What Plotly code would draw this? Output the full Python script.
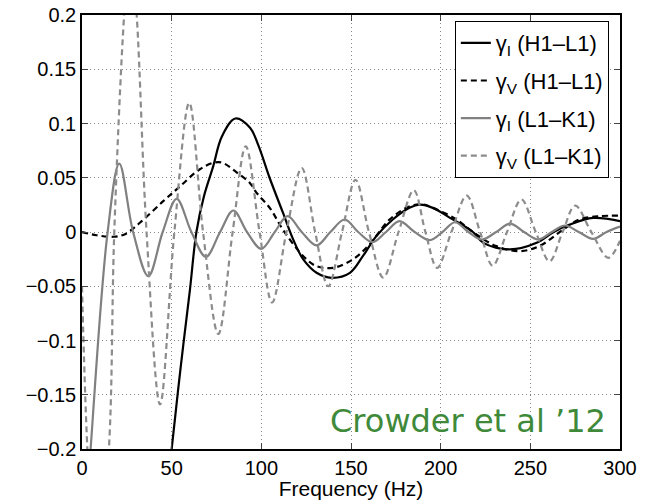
import plotly.graph_objects as go

# --- data ---
# gamma_I (H1-L1)
f_i_hl = [40, 50, 55, 60.2, 63.8, 68, 73.2, 78, 85.5, 93.7, 98.3, 104.6, 112, 117.8, 123.4,
          130.8, 139.2, 149.4, 156.6, 164, 173.3, 182.6, 188.5, 196, 205.2, 218, 223.8, 238.7,
          253.5, 263, 272, 285, 300]
g_i_hl = [-0.36, -0.2, -0.125, -0.053, 0.0, 0.033, 0.0607, 0.088, 0.1046, 0.096, 0.08, 0.05,
          0.018, -0.007, -0.0253, -0.0376, -0.0422, -0.0376, -0.0223, -0.004, 0.0115, 0.0223,
          0.0253, 0.022, 0.013, 0.0, -0.01, -0.0161, -0.01, 0.0, 0.0069, 0.013, 0.01]

# gamma_V (H1-L1)
f_v_hl = [0, 8, 17.5, 24, 32.3, 45.3, 54.6, 65.5, 73.2, 78, 86.2, 93.7, 97.4, 104.8, 112, 123.4,
          130.8, 139.9, 151, 160.3, 171.5, 182.9, 190, 196, 208.9, 218, 231, 244, 255, 268.4,
          277.4, 288.9, 300]
g_v_hl = [0.0, -0.003, -0.0044, -0.002, 0.0085, 0.0284, 0.042, 0.0576, 0.0638, 0.064, 0.055,
          0.045, 0.036, 0.022, 0.0023, -0.0223, -0.0315, -0.033, -0.0253, -0.0115, 0.0115,
          0.0238, 0.0253, 0.022, 0.0115, 0.0, -0.013, -0.0177, -0.013, 0.0023, 0.0115, 0.0146,
          0.015]

# gamma_I (L1-K1)
f_i_lk = [0, 4.8, 14.3, 20.8, 28.5, 37, 45, 52.8, 61, 69.1, 77, 84.4, 92, 100, 107.5, 114.6,
          122.5, 130.8, 138.5, 146.5, 154, 162, 169.5, 177, 185.5, 194, 201, 208, 215.5, 222.9,
          231, 238.7, 246.5, 254.5, 262, 269.3, 277, 285, 292.5, 300]
g_i_lk = [-0.32, -0.2, 0.0, 0.063, 0.0, -0.0407, 0.0, 0.0306, 0.0, -0.0229, 0.0, 0.0198, 0.0,
          -0.0155, 0.0, 0.0146, 0.0, -0.0124, 0.0, 0.0115, 0.0, -0.0094, 0.0, 0.01, 0.0, -0.0075,
          0.0, 0.009, 0.0, -0.0069, 0.0, 0.0078, 0.0, -0.0069, 0.0, 0.006, 0.0, -0.0063, 0.0,
          0.005]

# gamma_V (L1-K1)
f_v_lk = [0, 3, 8, 15, 18, 23.5, 27, 30.5, 36, 43.5, 51.5, 59.8, 67.5, 76, 84, 91.3, 99, 106,
          114, 122.5, 130, 137.3, 145, 152.5, 160, 168, 176.5, 185, 191.5, 198, 206, 214.5, 222,
          229, 237, 245, 253, 260.7, 268, 275, 284, 293.5, 300]
g_v_lk = [-0.05, -0.2, -0.33, -0.2, 0.0, 0.2, 0.27, 0.2, 0.0, -0.159, 0.0, 0.119, 0.0, -0.094,
          0.0, 0.079, 0.0, -0.065, 0.0, 0.059, 0.0, -0.05, 0.0, 0.048, 0.0, -0.042, 0.0, 0.0385,
          0.0, -0.033, 0.0, 0.0336, 0.0, -0.031, 0.0, 0.030, 0.0, -0.027, 0.0, 0.0244, 0.0,
          -0.0238, -0.008]

x_ticks = [0, 50, 100, 150, 200, 250, 300]
y_ticks = [-0.2, -0.15, -0.1, -0.05, 0, 0.05, 0.1, 0.15, 0.2]
y_tick_text = ["\u22120.2", "\u22120.15", "\u22120.1", "\u22120.05", "0", "0.05", "0.1", "0.15", "0.2"]

series = [
    ("\u03b3<sub>I</sub> (H1\u2013L1)", f_i_hl, g_i_hl, "black", "solid"),
    ("\u03b3<sub>V</sub> (H1\u2013L1)", f_v_hl, g_v_hl, "black", "6px,4px"),
    ("\u03b3<sub>I</sub> (L1\u2013K1)", f_i_lk, g_i_lk, "#808080", "solid"),
    ("\u03b3<sub>V</sub> (L1\u2013K1)", f_v_lk, g_v_lk, "#8c8c8c", "6px,4px"),
]

fig = go.Figure()
for i, (name, fx, gy, col, dash) in enumerate(series):
    fig.add_trace(go.Scatter(
        x=fx, y=gy, mode="lines", name=name, legendgroup=f"g{i}",
        line=dict(color=col, width=2.2, dash=dash, shape="spline", smoothing=1.0),
    ))

font_family = "Liberation Sans, Arial, sans-serif"

fig.update_layout(
    width=658, height=500,
    margin=dict(l=82, r=38, t=15, b=51, autoexpand=False),
    paper_bgcolor="white", plot_bgcolor="white",
    font=dict(family=font_family, size=20, color="black"),
    showlegend=True,
    legend=dict(
        x=0.693, y=0.986, xanchor="left", yanchor="top",
        bgcolor="white", bordercolor="black", borderwidth=1,
        font=dict(size=22, family=font_family),
        tracegroupgap=6, itemwidth=30,
    ),
    xaxis=dict(
        range=[0, 300], tickvals=x_ticks, ticks="inside", ticklen=6,
        showline=True, linecolor="black", linewidth=1.5, mirror="ticks",
        showgrid=True, gridcolor="#888888", griddash="1px,3px", gridwidth=1,
        zeroline=False, tickfont=dict(size=20), automargin=False,
        title=dict(text="Frequency (Hz)", font=dict(size=21), standoff=0),
    ),
    yaxis=dict(
        range=[-0.2, 0.2], tickvals=y_ticks, ticktext=y_tick_text, ticks="inside", ticklen=6,
        showline=True, linecolor="black", linewidth=1.5, mirror="ticks",
        showgrid=True, gridcolor="#888888", griddash="1px,3px", gridwidth=1,
        zeroline=False, tickfont=dict(size=20), automargin=False,
    ),
    annotations=[dict(
        text="Crowder et al \u201912", xref="paper", yref="paper",
        x=0.978, y=0.064, xanchor="right", yanchor="middle", showarrow=False,
        font=dict(family="DejaVu Sans, sans-serif", size=32, color="#3f8a3a"),
    )],
)

fig.write_html("out.html", config={"displayModeBar": False},
               post_script="document.body.style.margin='0';")
